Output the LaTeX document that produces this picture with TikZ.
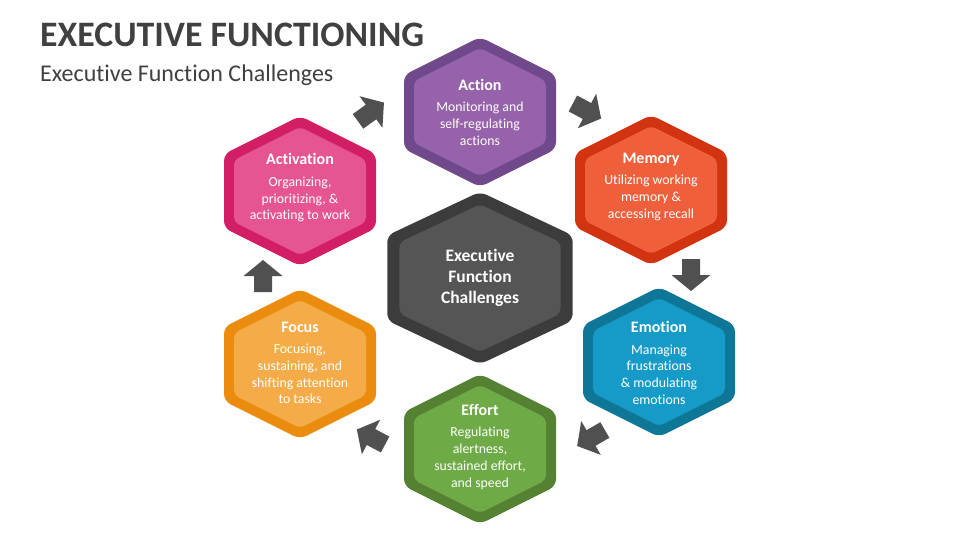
\documentclass[tikz,border=0pt]{standalone}
\usepackage{fontspec}
\setmainfont[Ligatures=NoCommon]{Carlito}
\usepackage{tikz}
\usetikzlibrary{calc}
\definecolor{headgray}{RGB}{64,64,64}
\definecolor{arrowgray}{RGB}{80,80,80}
\definecolor{actiondark}{RGB}{112,72,140}
\definecolor{actionpale}{RGB}{150,98,170}
\definecolor{memorydark}{RGB}{210,52,18}
\definecolor{memorypale}{RGB}{240,95,60}
\definecolor{emotiondark}{RGB}{14,118,150}
\definecolor{emotionpale}{RGB}{22,155,200}
\definecolor{effortdark}{RGB}{84,130,50}
\definecolor{effortpale}{RGB}{110,170,70}
\definecolor{focusdark}{RGB}{235,140,15}
\definecolor{focuspale}{RGB}{245,172,72}
\definecolor{activdark}{RGB}{210,30,100}
\definecolor{activpale}{RGB}{230,85,145}
\definecolor{coredark}{RGB}{60,60,60}
\definecolor{corepale}{RGB}{85,85,85}
\newcommand{\hextitle}[1]{{\bfseries\fontsize{16}{19}\selectfont #1}\\[4.5pt]}
\tikzset{
  pics/hexcell/.style 2 args={code={
    \fill[#1,rounded corners=7pt] (76,0) -- (76,37) -- (0,75) -- (-76,37) -- (-76,-37) -- (0,-75) -- (76,-37) -- cycle;
    \fill[#2,rounded corners=5pt] (66,0) -- (66,31) -- (0,64) -- (-66,31) -- (-66,-31) -- (0,-64) -- (66,-31) -- cycle;
  }},
  pics/turnarrow/.style={code={
    \fill[arrowgray] (-16,-9) -- (0,-9) -- (0,-19.5) -- (16,0) -- (0,19.5) -- (0,9) -- (-16,9) -- cycle;
  }},
}

\begin{document}
\begin{tikzpicture}[x=1pt,y=-1pt,
  celltext/.style={text=white,align=center,font=\fontsize{13.8}{16.8}\selectfont},
  heading/.style={anchor=base west,text=headgray,inner sep=0pt}]
  \fill[white] (0,0) rectangle (960,540);
  \node[heading,font=\bfseries\fontsize{35.8}{40}\selectfont] (title) at (40,47) {EXECUTIVE FUNCTIONING};
  \node[heading,font=\fontsize{24}{28}\selectfont] (subtitle) at (40,82) {Executive Function Challenges};

  % hexagons round the core
  \pic at (480,112) {hexcell={actiondark}{actionpale}};
  \pic at (651,190) {hexcell={memorydark}{memorypale}};
  \pic at (659,362) {hexcell={emotiondark}{emotionpale}};
  \pic at (480,449) {hexcell={effortdark}{effortpale}};
  \pic at (300,364) {hexcell={focusdark}{focuspale}};
  \pic at (300,191) {hexcell={activdark}{activpale}};
  \pic[xscale=1.22,yscale=1.15] at (480,278) {hexcell={coredark}{corepale}};

  \node[celltext] (action) at (480,112) {\hextitle{Action}Monitoring and\\self-regulating\\actions};
  \node[celltext] (memory) at (651,187) {\hextitle{Memory}Utilizing working\\memory \&\\accessing recall};
  \node[celltext] (emotion) at (659,363) {\hextitle{Emotion}Managing\\frustrations\\\& modulating\\emotions};
  \node[celltext] (effort) at (480,447) {\hextitle{Effort}Regulating\\alertness,\\sustained effort,\\and speed};
  \node[celltext] (focus) at (300,363) {\hextitle{Focus}Focusing,\\sustaining, and\\shifting attention\\to tasks};
  \node[celltext] (activation) at (300,188) {\hextitle{Activation}Organizing,\\prioritizing, \&\\activating to work};
  \node[celltext,font=\bfseries\fontsize{17.5}{21}\selectfont] (core) at (480,278) {Executive\\Function\\Challenges};

  % turning arrows
  \pic[rotate=36] at (371,112) {turnarrow};
  \pic[rotate=-28] at (587,111) {turnarrow};
  \pic[rotate=-90] at (691,275) {turnarrow};
  \pic[rotate=210] at (591,438) {turnarrow};
  \pic[rotate=152] at (371,437) {turnarrow};
  \pic[rotate=90] at (263,276) {turnarrow};
\end{tikzpicture}
\end{document}
